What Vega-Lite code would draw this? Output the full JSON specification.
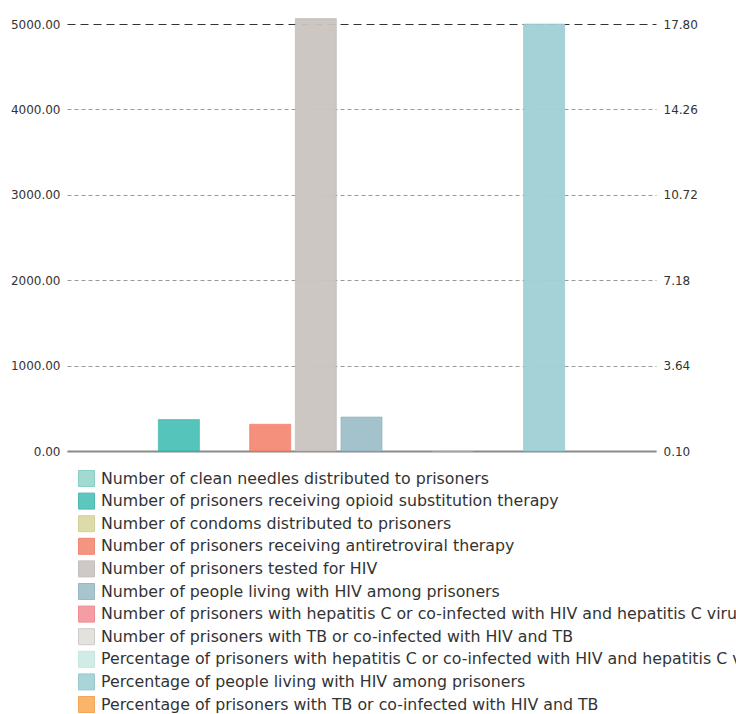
{
  "$schema": "https://vega.github.io/schema/vega-lite/v6.json",
  "autosize": "none",
  "width": 589,
  "height": 427,
  "padding": {"left": 67, "top": 24, "right": 80, "bottom": 263},
  "background": "white",
  "config": {
    "font": "DejaVu Sans",
    "view": {"stroke": null}
  },
  "data": {
    "values": [
      {"indicator": "Number of clean needles distributed to prisoners", "count": null, "pct": null},
      {"indicator": "Number of prisoners receiving opioid substitution therapy", "count": 368, "pct": null},
      {"indicator": "Number of condoms distributed to prisoners", "count": null, "pct": null},
      {"indicator": "Number of prisoners receiving antiretroviral therapy", "count": 313, "pct": null},
      {"indicator": "Number of prisoners tested for HIV", "count": 5063, "pct": null},
      {"indicator": "Number of people living with HIV among prisoners", "count": 398, "pct": null},
      {"indicator": "Number of prisoners with hepatitis C or co-infected with HIV and hepatitis C virus", "count": null, "pct": null},
      {"indicator": "Number of prisoners with TB or co-infected with HIV and TB", "count": 3, "pct": null},
      {"indicator": "Percentage of prisoners with hepatitis C or co-infected with HIV and hepatitis C virus", "count": null, "pct": null},
      {"indicator": "Percentage of people living with HIV among prisoners", "count": null, "pct": 17.8},
      {"indicator": "Percentage of prisoners with TB or co-infected with HIV and TB", "count": null, "pct": null}
    ]
  },
  "encoding": {
    "x": {
      "field": "indicator",
      "type": "nominal",
      "sort": null,
      "scale": {
        "domain": [
          "Number of clean needles distributed to prisoners",
          "Number of prisoners receiving opioid substitution therapy",
          "Number of condoms distributed to prisoners",
          "Number of prisoners receiving antiretroviral therapy",
          "Number of prisoners tested for HIV",
          "Number of people living with HIV among prisoners",
          "Number of prisoners with hepatitis C or co-infected with HIV and hepatitis C virus",
          "Number of prisoners with TB or co-infected with HIV and TB",
          "Percentage of prisoners with hepatitis C or co-infected with HIV and hepatitis C virus",
          "Percentage of people living with HIV among prisoners",
          "Percentage of prisoners with TB or co-infected with HIV and TB"
        ],
        "paddingInner": 0.1,
        "paddingOuter": 1.05
      },
      "axis": {
        "title": null,
        "labels": false,
        "ticks": false,
        "grid": false,
        "domain": true,
        "domainColor": "#8a8a8a",
        "domainWidth": 2
      }
    },
    "color": {
      "field": "indicator",
      "type": "nominal",
      "scale": {
        "domain": [
          "Number of clean needles distributed to prisoners",
          "Number of prisoners receiving opioid substitution therapy",
          "Number of condoms distributed to prisoners",
          "Number of prisoners receiving antiretroviral therapy",
          "Number of prisoners tested for HIV",
          "Number of people living with HIV among prisoners",
          "Number of prisoners with hepatitis C or co-infected with HIV and hepatitis C virus",
          "Number of prisoners with TB or co-infected with HIV and TB",
          "Percentage of prisoners with hepatitis C or co-infected with HIV and hepatitis C virus",
          "Percentage of people living with HIV among prisoners",
          "Percentage of prisoners with TB or co-infected with HIV and TB"
        ],
        "range": ["#98d6cc", "#4cc1b7", "#dbd8a2", "#f38a75", "#c9c4c0", "#9fbfc9", "#f4939b", "#e0dfdb", "#cdebe5", "#a0d0d4", "#f9ad5c"]
      },
      "legend": {
        "title": null,
        "orient": "none",
        "legendX": 11,
        "legendY": 446,
        "direction": "vertical",
        "symbolType": "square",
        "symbolSize": 256,
        "symbolStrokeWidth": 1,
        "symbolOpacity": 0.9,
        "labelFont": "DejaVu Sans",
        "labelFontSize": 15.8,
        "labelColor": "#333333",
        "labelLimit": 0,
        "labelOffset": 6,
        "rowPadding": 1.6
      }
    }
  },
  "layer": [
    {
      "mark": {"type": "bar", "clip": false, "strokeWidth": 1, "strokeOpacity": 0.6, "fillOpacity": 0.95},
      "encoding": {
        "y": {
          "field": "count",
          "type": "quantitative",
          "scale": {"domain": [0, 5000], "nice": false, "zero": true},
          "axis": {
            "title": null,
            "orient": "left",
            "values": [0, 1000, 2000, 3000, 4000, 5000],
            "format": ".2f",
            "domain": false,
            "ticks": false,
            "labelPadding": 7,
            "labelFont": "DejaVu Sans",
            "labelFontSize": 12,
            "labelColor": "#333333",
            "grid": true,
            "gridColor": {"condition": {"test": "datum.value === 5000", "value": "#333333"}, "value": "#9a9a9a"},
            "gridDash": {"condition": {"test": "datum.value === 5000", "value": [8, 5]}, "value": [4, 3]},
            "gridWidth": 1
          }
        },
        "stroke": {"field": "indicator", "type": "nominal", "legend": null, "scale": {"domain": [
          "Number of clean needles distributed to prisoners",
          "Number of prisoners receiving opioid substitution therapy",
          "Number of condoms distributed to prisoners",
          "Number of prisoners receiving antiretroviral therapy",
          "Number of prisoners tested for HIV",
          "Number of people living with HIV among prisoners",
          "Number of prisoners with hepatitis C or co-infected with HIV and hepatitis C virus",
          "Number of prisoners with TB or co-infected with HIV and TB",
          "Percentage of prisoners with hepatitis C or co-infected with HIV and hepatitis C virus",
          "Percentage of people living with HIV among prisoners",
          "Percentage of prisoners with TB or co-infected with HIV and TB"
        ], "range": ["#7fc9bd", "#3bb3a9", "#cfcb8f", "#ee7864", "#bdb7b3", "#8db1bd", "#ee8089", "#c9c8c3", "#bfe3dc", "#8cc4c9", "#f39c45"]}}
      }
    },
    {
      "mark": {"type": "bar", "clip": false, "strokeWidth": 1, "strokeOpacity": 0.6, "fillOpacity": 0.95, "stroke": "#8cc4c9"},
      "encoding": {
        "y": {
          "field": "pct",
          "type": "quantitative",
          "scale": {"domain": [0.1, 17.8], "nice": false, "zero": false},
          "axis": {
            "title": null,
            "orient": "right",
            "values": [0.1, 3.64, 7.18, 10.72, 14.26, 17.8],
            "format": ".2f",
            "domain": false,
            "ticks": false,
            "grid": false,
            "labelPadding": 7,
            "labelFont": "DejaVu Sans",
            "labelFontSize": 12,
            "labelColor": "#333333"
          }
        },
        "y2": {"datum": 0.1}
      }
    }
  ],
  "resolve": {"scale": {"y": "independent"}}
}
